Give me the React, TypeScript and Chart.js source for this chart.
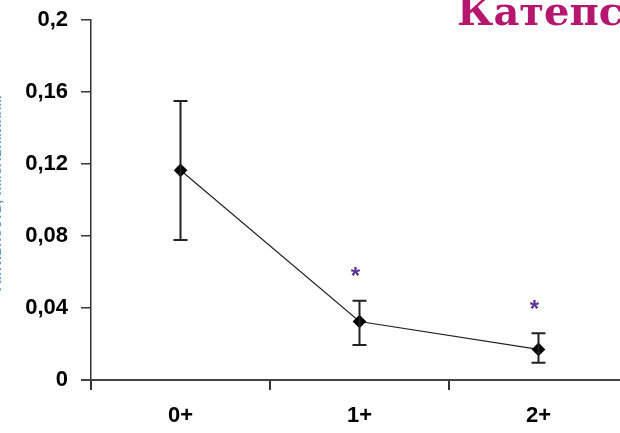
import React, { useEffect, useRef } from "react";
import { Chart, registerables } from "chart.js";

Chart.register(...registerables);

const categories = ["0+", "1+", "2+"];
const means = [0.1165, 0.0325, 0.017];
const errLow = [0.0778, 0.0194, 0.0096];
const errHigh = [0.155, 0.044, 0.026];
const starValues = [null, 0.0594, 0.0407];
const yTicks = [0, 0.04, 0.08, 0.12, 0.16, 0.2];
const titleText = "Катепсин B";
const yAxisLabel = "Активность, нмоль/мин/мг";

const errorBarPlugin = {
  id: "errorBars",
  afterDatasetsDraw(chart: any) {
    const ctx = chart.ctx;
    const x = chart.scales.x;
    const y = chart.scales.y;
    ctx.save();
    ctx.strokeStyle = "#222";
    ctx.lineWidth = 2;
    categories.forEach((c, i) => {
      const px = x.getPixelForValue(i);
      const yl = y.getPixelForValue(errLow[i]);
      const yh = y.getPixelForValue(errHigh[i]);
      ctx.beginPath();
      ctx.moveTo(px, yl);
      ctx.lineTo(px, yh);
      ctx.moveTo(px - 7, yl);
      ctx.lineTo(px + 7, yl);
      ctx.moveTo(px - 7, yh);
      ctx.lineTo(px + 7, yh);
      ctx.stroke();
    });
    ctx.font = "bold 24px 'Liberation Sans', Arial, sans-serif";
    ctx.fillStyle = "#5e3596";
    ctx.textAlign = "center";
    ctx.textBaseline = "middle";
    starValues.forEach((v, i) => {
      if (v == null) return;
      ctx.fillText("*", x.getPixelForValue(i) - 4, y.getPixelForValue(v) + 4);
    });
    const a = chart.chartArea;
    ctx.strokeStyle = "#444";
    ctx.lineWidth = 2;
    ctx.beginPath();
    ctx.moveTo(a.left - 10, a.bottom);
    ctx.lineTo(a.left, a.bottom);
    ctx.stroke();
    ctx.restore();
  },
};

const textPlugin = {
  id: "extraText",
  afterDraw(chart: any) {
    const ctx = chart.ctx;
    ctx.save();
    ctx.font = "bold 40px 'DejaVu Serif', serif";
    ctx.fillStyle = "#b5176e";
    ctx.textAlign = "left";
    ctx.textBaseline = "alphabetic";
    ctx.fillText(titleText, 457, 25);
    ctx.translate(1, 192);
    ctx.rotate(-Math.PI / 2);
    ctx.font = "bold 15px 'Liberation Sans', Arial, sans-serif";
    ctx.fillStyle = "#5b9bd5";
    ctx.textAlign = "center";
    ctx.textBaseline = "alphabetic";
    ctx.fillText(yAxisLabel, 0, 0);
    ctx.restore();
  },
};

export default function App() {
  const ref = useRef<HTMLCanvasElement>(null);
  useEffect(() => {
    if (!ref.current) return;
    const chart = new Chart(ref.current, {
      type: "line",
      data: {
        labels: categories,
        datasets: [
          {
            data: means,
            borderColor: "#222",
            borderWidth: 1.2,
            pointStyle: "rectRot",
            pointRadius: 6,
            pointBackgroundColor: "#000",
            pointBorderColor: "#000",
            tension: 0,
          },
        ],
      },
      options: {
        animation: false,
        responsive: false,
        layout: { padding: { top: 20, right: 12, left: 0, bottom: 0 } },
        plugins: { legend: { display: false }, tooltip: { enabled: false }, title: { display: false } },
        scales: {
          x: {
            type: "category",
            offset: true,
            grid: { offset: true, drawOnChartArea: false, drawTicks: true, tickLength: 10, color: "#333", lineWidth: 2 },
            border: { display: true, color: "#444", width: 2 },
            ticks: {
              color: "#000",
              padding: 13,
              font: { family: "'Liberation Sans', Arial, sans-serif", size: 22, weight: "bold" },
            },
            afterFit: (s: any) => {
              s.height = 53;
              s.paddingLeft = 0;
              s.paddingRight = 0;
            },
          },
          y: {
            min: 0,
            max: 0.2,
            afterBuildTicks: (s: any) => {
              s.ticks = yTicks.map((v) => ({ value: v }));
            },
            grid: { drawOnChartArea: false, drawTicks: true, tickLength: 10, color: "#333", lineWidth: 1.5 },
            border: { display: true, color: "#333", width: 1.5 },
            ticks: {
              color: "#000",
              padding: 13,
              font: { family: "'Liberation Sans', Arial, sans-serif", size: 22, weight: "bold" },
              callback: (v: any) => String(Math.round(Number(v) * 100) / 100).replace(".", ","),
            },
            afterFit: (s: any) => {
              s.width = 91;
              s.paddingTop = 0;
              s.paddingBottom = 0;
            },
          },
        },
      },
      plugins: [errorBarPlugin, textPlugin],
    });
    return () => chart.destroy();
  }, []);
  return (
    <div style={{ position: "absolute", left: 0, top: 0, width: 620, height: 433, overflow: "hidden", background: "#fff" }}>
      <canvas ref={ref} width={640} height={433} style={{ display: "block" }} />
    </div>
  );
}
